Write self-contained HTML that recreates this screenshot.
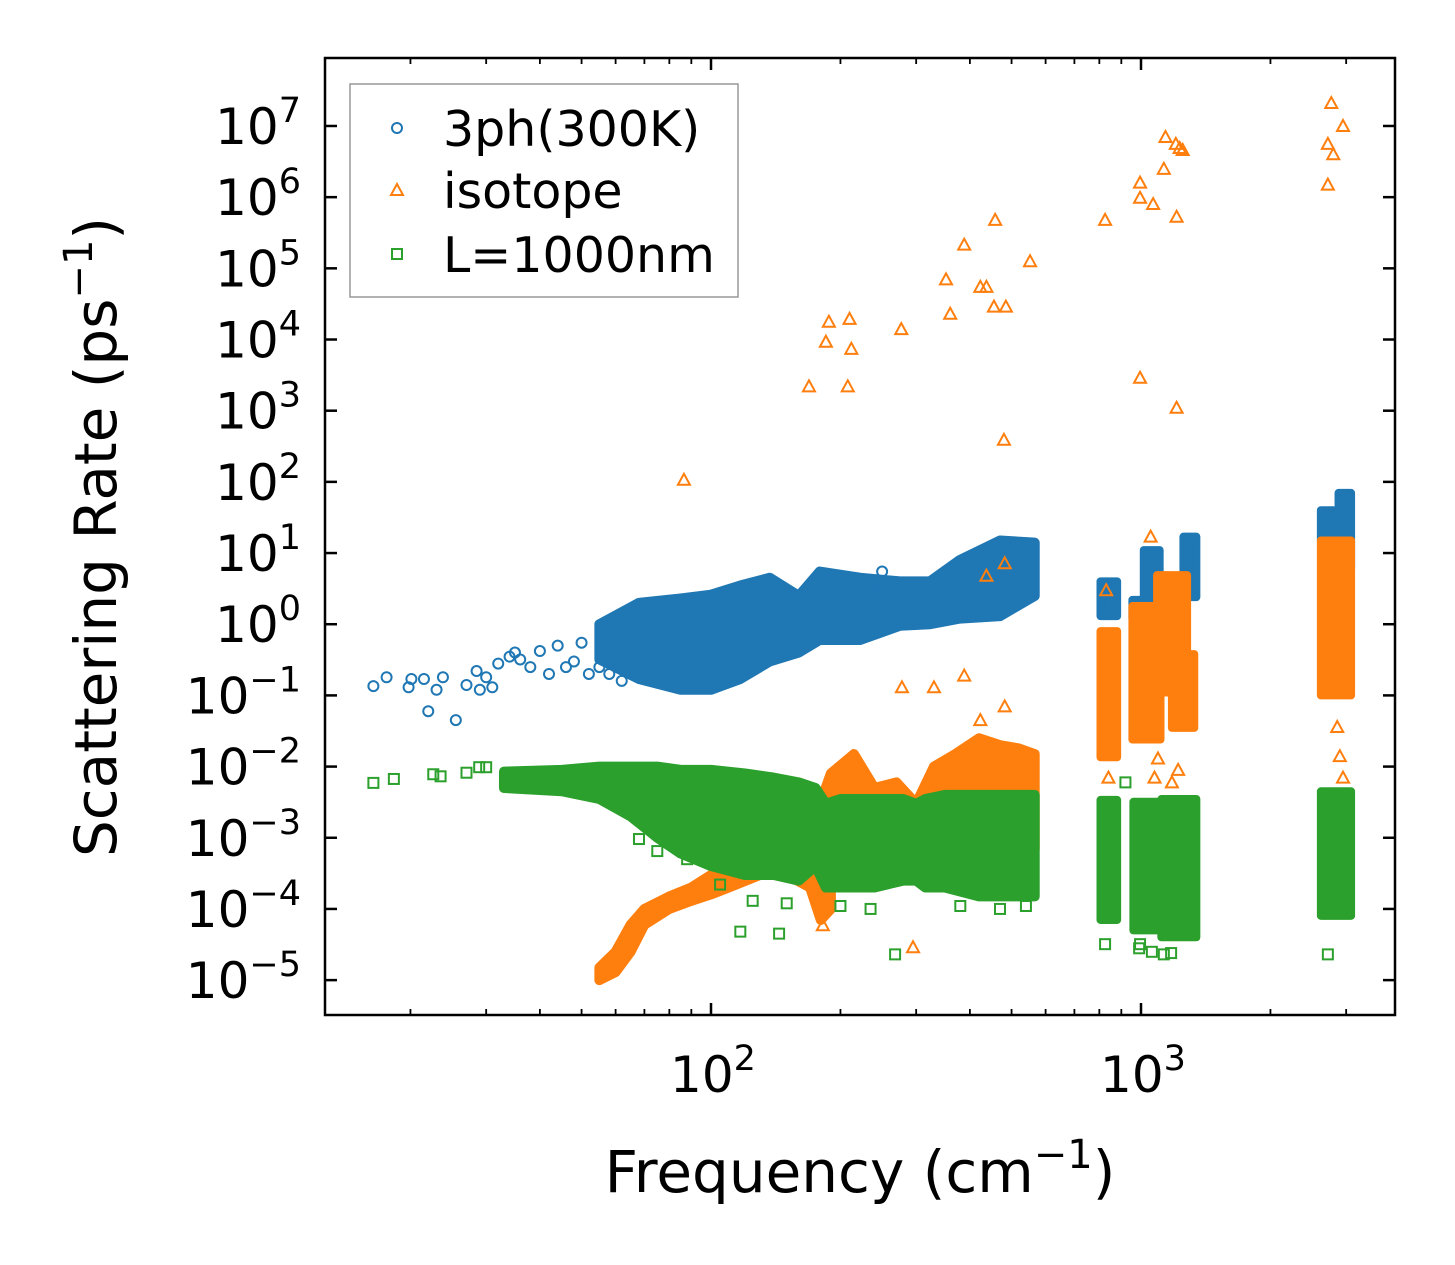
<!DOCTYPE html>
<html><head><meta charset="utf-8">
<style>
html,body{margin:0;padding:0;background:#fff;}
svg{display:block;font-family:"DejaVu Sans","Liberation Sans",sans-serif;}
</style></head>
<body>
<svg id="chart" width="1455" height="1265" viewBox="0 0 1455 1265" xmlns="http://www.w3.org/2000/svg">
<rect width="1455" height="1265" fill="#fff"/>
<g id="plot"></g>
<g id="axes"></g>
<text x="860" y="1192" font-size="58" text-anchor="middle">Frequency (cm<tspan dy="-24" font-size="40">−1</tspan><tspan dy="24">)</tspan></text>
<text transform="translate(116,537) rotate(-90)" font-size="58" text-anchor="middle">Scattering Rate (ps<tspan dy="-24" font-size="40">−1</tspan><tspan dy="24">)</tspan></text>
<g>
<rect x="350" y="84" width="388" height="213" fill="#fff" stroke="#999" stroke-width="1.5"/>
<circle cx="397" cy="128" r="5" fill="none" stroke="#1f77b4" stroke-width="2"/>
<text x="443" y="146" font-size="49">3ph(300K)</text>
<polygon points="397,184 403,195 391,195" fill="none" stroke="#ff7f0e" stroke-width="2"/>
<text x="443" y="208" font-size="49">isotope</text>
<rect x="392" y="249" width="10" height="10" fill="none" stroke="#2ca02c" stroke-width="2"/>
<text x="443" y="272" font-size="49">L=1000nm</text>
</g>
</svg>
<script>
// ---- data (frequency cm^-1, rate ps^-1) ----
const blueBand = [[55,0.32,1.0],[68,0.17,2.0],[85,0.12,2.3],[100,0.12,2.6],[117,0.17,3.5],[137,0.3,4.5],[160,0.4,2.5],[179,0.6,5.5],[222,0.6,4.5],[275,0.95,4],[323,1.0,4],[379,1.2,8],[470,1.3,15],[566,2.5,14]];
const blueClusters = [[805,880,1.3,4.0],[955,1045,1.2,2.2],[1015,1105,1.8,11],[1255,1345,2.4,17],[2620,2800,15,40],[2880,3080,6,70]];
const bluePoints = [[16.4,0.135],[17.6,0.18],[19.8,0.13],[20.1,0.17],[21.5,0.17],[22,0.06],[23,0.12],[23.8,0.18],[25.5,0.045],[27,0.14],[28.5,0.22],[29,0.12],[30,0.18],[31,0.13],[32,0.28],[34,0.35],[35,0.4],[36,0.32],[38,0.25],[40,0.42],[42,0.2],[44,0.5],[46,0.25],[48,0.3],[50,0.55],[52,0.2],[55,0.25],[58,0.2],[60,0.6],[62,0.16],[65,0.45],[250,5.5],[245,3.5]];
const orangeBand = [[175,1.5e-4,2e-3],[190,2e-4,8e-3],[215,3e-4,1.5e-2],[240,3e-4,5e-3],[270,3e-4,6e-3],[300,3e-4,3e-3],[330,3e-4,1e-2],[370,4e-4,1.5e-2],[420,5e-4,2.5e-2],[470,5e-4,2e-2],[520,6e-4,1.8e-2],[566,7e-4,1.5e-2]];
const orangeRamp = [[55,1e-5,1.5e-5],[60,1.3e-5,2.5e-5],[65,2.5e-5,6e-5],[70,6e-5,1e-4],[80,1e-4,1.5e-4],[90,1.3e-4,2e-4],[100,1.6e-4,3e-4],[110,2e-4,4e-4],[130,3e-4,6e-4],[150,3e-4,8e-4],[170,2e-4,1e-3],[180,7e-5,6e-4],[190,1e-4,5e-4]];
const orangeClusters = [[805,880,0.0135,0.8],[955,1110,0.024,1.8],[1090,1280,0.11,4.9],[1180,1330,0.035,0.38],[2620,3080,0.1,15]];
const orangePoints = [[86.5,107],[169,2200],[185,9300],[188,17800],[208,2200],[210,19500],[212,7400],[277,14000],[278,0.13],[330,0.13],[352,70000],[360,23000],[388,215000],[388,0.19],[423,55000],[437,55000],[458,480000],[455,29000],[480,390],[485,29000],[552,126000],[437,4.8],[482,7.2],[423,0.045],[482,0.07],[825,480000],[995,2900],[995,1.6e6],[995,9.8e5],[1067,8e5],[1053,17],[1130,2.5e6],[1140,7e6],[1205,5.6e6],[1230,4.9e6],[1250,4.6e6],[1210,5.3e5],[1210,1100],[830,3.0],[2770,2.1e7],[2720,5.6e6],[2800,4e6],[2720,1.5e6],[2950,1e7],[1075,0.007],[1095,0.013],[1180,0.006],[1220,0.009],[2900,0.014],[2950,0.007],[840,0.007],[2860,0.036],[295,2.9e-5],[182,5.9e-5],[230,0.007]];
const greenBand = [[33,5e-3,8.5e-3],[45,4.5e-3,9e-3],[55,3.5e-3,1e-2],[65,2e-3,1e-2],[75,1e-3,1e-2],[85,6e-4,9e-3],[100,4e-4,9e-3],[120,3e-4,8e-3],[140,3e-4,7e-3],[160,2.5e-4,6e-3],[175,4e-4,5e-3],[185,2e-4,3e-3],[200,2e-4,3.5e-3],[240,2e-4,3.5e-3],[280,2.5e-4,3.5e-3],[300,2.5e-4,3e-3],[315,2e-4,3.5e-3],[350,2e-4,4e-3],[420,1.5e-4,4e-3],[470,1.5e-4,4e-3],[566,1.5e-4,4e-3]];
const greenClusters = [[805,880,7e-5,3.4e-3],[960,1125,5e-5,3.2e-3],[1115,1345,4e-5,3.5e-3],[2620,3080,8e-5,4.5e-3]];
const greenPoints = [[16.4,0.0059],[18.3,0.0067],[22.6,0.0078],[23.5,0.0073],[27,0.0082],[28.9,0.0098],[30,0.0098],[117,4.8e-5],[144,4.5e-5],[235,1.0e-4],[268,2.3e-5],[825,3.2e-5],[995,3.2e-5],[990,2.8e-5],[1060,2.5e-5],[1130,2.3e-5],[1175,2.4e-5],[2720,2.3e-5],[68,9.6e-4],[75,6.5e-4],[88,5e-4],[105,2.2e-4],[125,1.3e-4],[150,1.2e-4],[200,1.1e-4],[380,1.1e-4],[470,1.0e-4],[540,1.1e-4],[2900,1.3e-4],[920,6e-3]];
const yTicks = [-5,-4,-3,-2,-1,0,1,2,3,4,5,6,7];
const xTicks = [2,3];

// ---- axes ----
const L=325,R=1395,T=58,B=1015;
const lxMin=1.1023, lxMax=3.5907, lyMin=-5.49, lyMax=7.955;
const X=f=>L+(Math.log10(f)-lxMin)/(lxMax-lxMin)*(R-L);
const Y=r=>B-(Math.log10(r)-lyMin)/(lyMax-lyMin)*(B-T);
const NS="http://www.w3.org/2000/svg";
const plot=document.getElementById('plot'), axes=document.getElementById('axes');
function mk(tag,attrs,parent){const e=document.createElementNS(NS,tag);for(const k in attrs)e.setAttribute(k,attrs[k]);parent.appendChild(e);return e;}
const C={b:'#1f77b4',o:'#ff7f0e',g:'#2ca02c'};

function band(arr,col,name){
  const top=arr.map(d=>X(d[0])+','+Y(d[2])), bot=arr.slice().reverse().map(d=>X(d[0])+','+Y(d[1]));
  const p=mk('polygon',{points:top.concat(bot).join(' '),fill:col,stroke:col,'stroke-width':10,'stroke-linejoin':'round'},plot);
  
  
}
function clusters(arr,col,name){
  arr.forEach(d=>{
    const x1=X(d[0]),x2=X(d[1]),y1=Y(d[3]),y2=Y(d[2]);
    const r=mk('rect',{x:x1,y:y1,width:x2-x1,height:y2-y1,fill:col,stroke:col,'stroke-width':8,'stroke-linejoin':'round'},plot);
    
    
  });
}
function points(arr,col,shape,name){
  arr.forEach(d=>{
    const x=X(d[0]),y=Y(d[1]);let e;
    if(shape==='c') e=mk('circle',{cx:x,cy:y,r:5,fill:'none',stroke:col,'stroke-width':2},plot);
    else if(shape==='t') e=mk('polygon',{points:`${x},${y-6} ${x+6},${y+5} ${x-6},${y+5}`,fill:'none',stroke:col,'stroke-width':2},plot);
    else e=mk('rect',{x:x-5,y:y-5,width:10,height:10,fill:'none',stroke:col,'stroke-width':2},plot);
    
    
  });
}
band(blueBand,C.b,'3ph-band');clusters(blueClusters,C.b,'3ph-cluster');points(bluePoints,C.b,'c','3ph-point');
band(orangeBand,C.o,'isotope-band');band(orangeRamp,C.o,'isotope-ramp');clusters(orangeClusters,C.o,'isotope-cluster');points(orangePoints,C.o,'t','isotope-point');
band(greenBand,C.g,'boundary-band');clusters(greenClusters,C.g,'boundary-cluster');points(greenPoints,C.g,'s','boundary-point');

const fr=mk('rect',{x:L,y:T,width:R-L,height:B-T,fill:'none',stroke:'#000','stroke-width':2.5},axes);


yTicks.forEach(e=>{
  const y=Y(Math.pow(10,e));
  mk('line',{x1:L,x2:L+12,y1:y,y2:y,stroke:'#000','stroke-width':2.5},axes);
  mk('line',{x1:R,x2:R-12,y1:y,y2:y,stroke:'#000','stroke-width':2.5},axes);
  const t=mk('text',{x:L-24,y:y+18,'font-size':50,'text-anchor':'end'},axes);
  
  
  t.innerHTML='10<tspan dy="-22" font-size="35">'+(e<0?'−'+(-e):e)+'</tspan>';
});
for(let d=1;d<=3;d++)for(let m=1;m<10;m++){
  const f=m*Math.pow(10,d);const lf=Math.log10(f);
  if(lf<lxMin||lf>lxMax)continue;
  const x=X(f),len=m===1?12:6;
  mk('line',{x1:x,x2:x,y1:B,y2:B-len,stroke:'#000','stroke-width':m===1?2.5:1.8},axes);
  mk('line',{x1:x,x2:x,y1:T,y2:T+len,stroke:'#000','stroke-width':m===1?2.5:1.8},axes);
}
xTicks.forEach(e=>{
  const t=mk('text',{x:X(Math.pow(10,e))+2,y:1092,'font-size':50,'text-anchor':'middle'},axes);
  
  
  t.innerHTML='10<tspan dy="-22" font-size="35">'+e+'</tspan>';
});
</script>
</body></html>
